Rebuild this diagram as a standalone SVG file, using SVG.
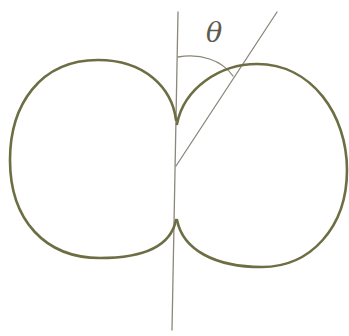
<svg xmlns="http://www.w3.org/2000/svg" width="349" height="336" viewBox="0 0 349 336">
<style>
.lobe{fill:none;stroke:#6e6e45;stroke-width:2.6;stroke-linecap:round}
.thin{fill:none;stroke:#8c877c;stroke-width:1.3;stroke-linecap:round}
.lbl{font-family:"DejaVu Serif","Liberation Serif",serif;font-style:italic;font-size:27px;fill:#5e5a50}
</style>
<rect width="349" height="336" fill="#ffffff"/>
<g id="connectors">
<line id="axis" class="thin" x1="178" y1="12" x2="172" y2="330"/>
<line id="ray" class="thin" x1="176" y1="166" x2="277" y2="12"/>
<path id="angle-arc" class="thin" d="M178,57 C200,53 222,60 233,76"/>
</g>
<g id="left-lobe">
<path class="lobe" d="M176,120 C172,88 145,60 98,60 C40,60 10,105 10,160 C10,220 45,258 100,258 C145,258 171,245 176,220"/>
</g>
<g id="right-lobe">
<path class="lobe" d="M177,124 C184,88 220,64 257,64 C312,64 347,115 347,170 C347,228 310,267 262,267 C215,267 183,250 177,220"/>
</g>
<g id="label-theta">
<text class="lbl" x="206" y="42">θ</text>
</g>
</svg>
